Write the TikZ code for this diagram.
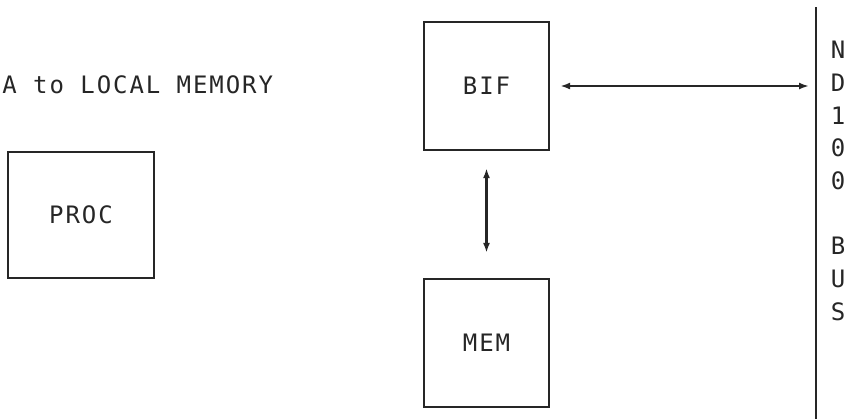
\documentclass[tikz,border=0pt]{standalone}
\usepackage{fontspec}
\newfontfamily\printfont[LetterSpace=8]{DejaVu Sans Mono}
\usetikzlibrary{positioning,arrows.meta}
\begin{document}
\begin{tikzpicture}[x=0.5pt,y=-0.5pt,>={Latex[length=5pt,width=3.5pt]},
		every node/.style={font=\printfont\fontsize{12}{14}\selectfont,text=black!85},
		unitbox/.style={draw=black!85,line width=1.1pt,inner sep=0pt},
		linkstyle/.style={<->,draw=black!85,line width=1.1pt}]
		
		\useasboundingbox (0,0) rectangle (862,419);
		
		\node[anchor=west,inner sep=0pt] (title) at (2,85) {A to LOCAL MEMORY};
		
		\node[unitbox,minimum width=73pt,minimum height=63pt] (proc) at (81,215) {PROC};
		\node[unitbox,minimum width=62.5pt,minimum height=64pt] (bif) at (486.5,86) {BIF};
		\node[unitbox,minimum width=62.5pt,minimum height=64pt] (mem) at (486.5,343) {MEM};
		
		% the bus
		\coordinate (bustop) at (816,7);
		\coordinate (busbot) at (816,419);
		\draw[draw=black!85,line width=1.1pt] (bustop) -- (busbot);
		\foreach \ch [count=\i from 0] in {N,D,1,0,0,{},B,U,S}
			\node (bus\i) at (838,50+32.7*\i) {\ch};
		
		\draw[linkstyle,shorten <=5pt,shorten >=3.5pt] (bif.east) -- (bif.east -| bustop);
		\draw[linkstyle,shorten <=8.5pt,shorten >=12.5pt] (bif.south) -- (mem.north);
		\end{tikzpicture}
\end{document}
